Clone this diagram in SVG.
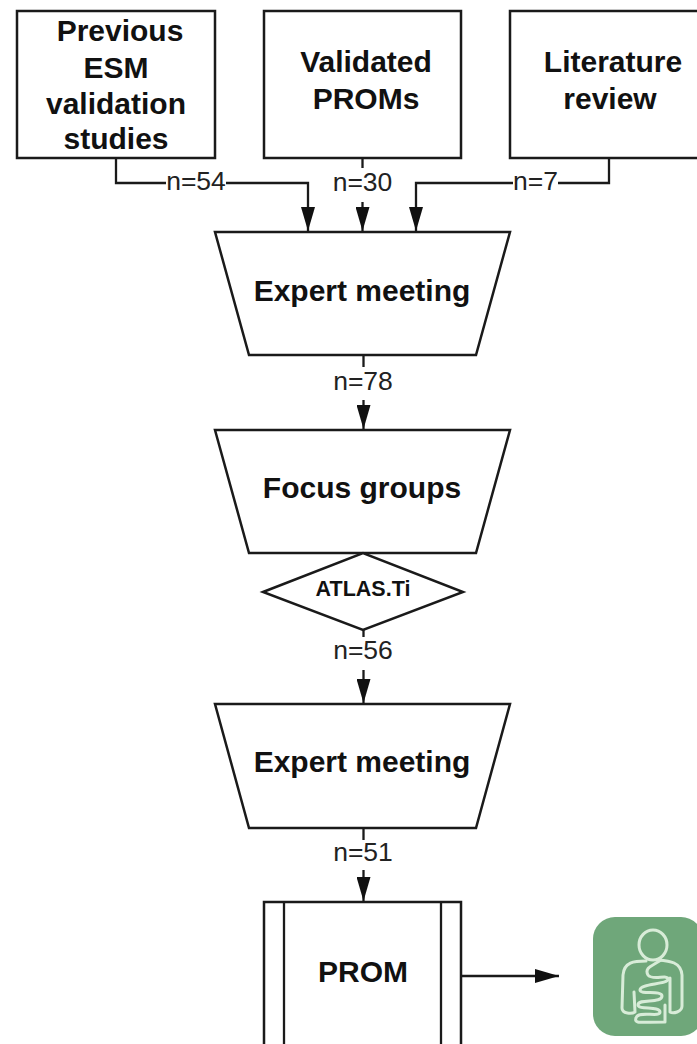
<svg xmlns="http://www.w3.org/2000/svg" width="697" height="1044" viewBox="0 0 697 1044">
<style>
.s{fill:#fff;stroke:#1a1a1a;stroke-width:2.5}
.c{fill:none;stroke:#1a1a1a;stroke-width:2.300}
.b{font-family:"Liberation Sans",Arial,sans-serif;font-weight:700;font-size:30px;fill:#111;text-anchor:middle}
.n{font-family:"Liberation Sans",Arial,sans-serif;font-size:26.5px;fill:#222;text-anchor:middle}
</style>
<defs><marker id="a" markerUnits="userSpaceOnUse" markerWidth="24" markerHeight="14" refX="24" refY="7" orient="auto" viewBox="0 0 24 14"><path d="M0 0L24 7L0 14Z" fill="#111"/></marker></defs>
<rect width="697" height="1044" fill="#fff"/>
<g id="connectors">
<path class="c" d="M116 158V183H308V231" marker-end="url(#a)"/>
<path class="c" d="M362.500 158V168"/>
<path class="c" d="M362.500 202V231" marker-end="url(#a)"/>
<path class="c" d="M609 158V183H416V231" marker-end="url(#a)"/>
<path class="c" d="M363.500 355V367"/>
<path class="c" d="M363.500 400V429" marker-end="url(#a)"/>
<path class="c" d="M363.500 630V637"/>
<path class="c" d="M363.500 670V703" marker-end="url(#a)"/>
<path class="c" d="M363.500 828V840"/>
<path class="c" d="M363.500 870V901" marker-end="url(#a)"/>
<path class="c" d="M461 976H559" marker-end="url(#a)"/>
</g>
<rect x="166" y="172" width="60" height="24" fill="#fff"/><rect x="513" y="172" width="45" height="24" fill="#fff"/>
<text class="n" x="196" y="190">n=54</text><text class="n" x="362.500" y="191">n=30</text><text class="n" x="535.500" y="190">n=7</text>
<text class="n" x="363" y="390">n=78</text><text class="n" x="363" y="659">n=56</text><text class="n" x="363" y="861">n=51</text>
<g id="n1"><rect class="s" x="17" y="11" width="198" height="147"/><text class="b" x="120" y="41">Previous</text><text class="b" x="116" y="78">ESM</text><text class="b" x="116" y="114">validation</text><text class="b" x="116" y="149">studies</text></g>
<g id="n2"><rect class="s" x="264" y="11" width="197" height="147"/><text class="b" x="366" y="72">Validated</text><text class="b" x="366" y="109">PROMs</text></g>
<g id="n3"><rect class="s" x="510" y="11" width="199" height="147"/><text class="b" x="613" y="72">Literature</text><text class="b" x="610" y="109">review</text></g>
<g id="n4"><path class="s" d="M215 232H510L476 355H249Z"/><text class="b" x="362" y="301">Expert meeting</text></g>
<g id="n5"><path class="s" d="M215 430H510L476 553H249Z"/><text class="b" x="362" y="498">Focus groups</text></g>
<g id="n6"><path class="s" d="M263 592L363 553L463 592L363 630Z"/><text x="363" y="596" font-family="Liberation Sans,Arial,sans-serif" font-weight="700" font-size="21.500" text-anchor="middle" fill="#111">ATLAS.Ti</text></g>
<g id="n7"><path class="s" d="M215 704H510L476 828H249Z"/><text class="b" x="362" y="772">Expert meeting</text></g>
<g id="n8"><path class="s" d="M264 1044V902H461V1044"/><path class="c" d="M284 902V1044M441 902V1044"/><text class="b" x="363" y="982">PROM</text></g>
<g id="n9"><rect x="593" y="917" width="110" height="119" rx="22" fill="#6fa77a"/>
<g fill="none" stroke="#d8ecd8" stroke-width="3" stroke-linecap="round" stroke-linejoin="round"><ellipse cx="653" cy="945" rx="14" ry="15"/><path d="M646 961C634 961 624 962 623 975L622 1008C622 1014 632 1014 635 1012L634 992M658 960C670 961 681 962 682 975L682 1006C682 1012 673 1014 670 1012V978"/><path d="M661 960C652 966 644 968 648 975C652 981 668 974 668 979C668 985 640 983 640 990C640 995 662 990 662 996C662 1004 638 998 638 1005C638 1010 660 1006 660 1012C660 1018 638 1010 636 1018C634 1024 640 1022 665 1022V1005"/></g></g>
</svg>
